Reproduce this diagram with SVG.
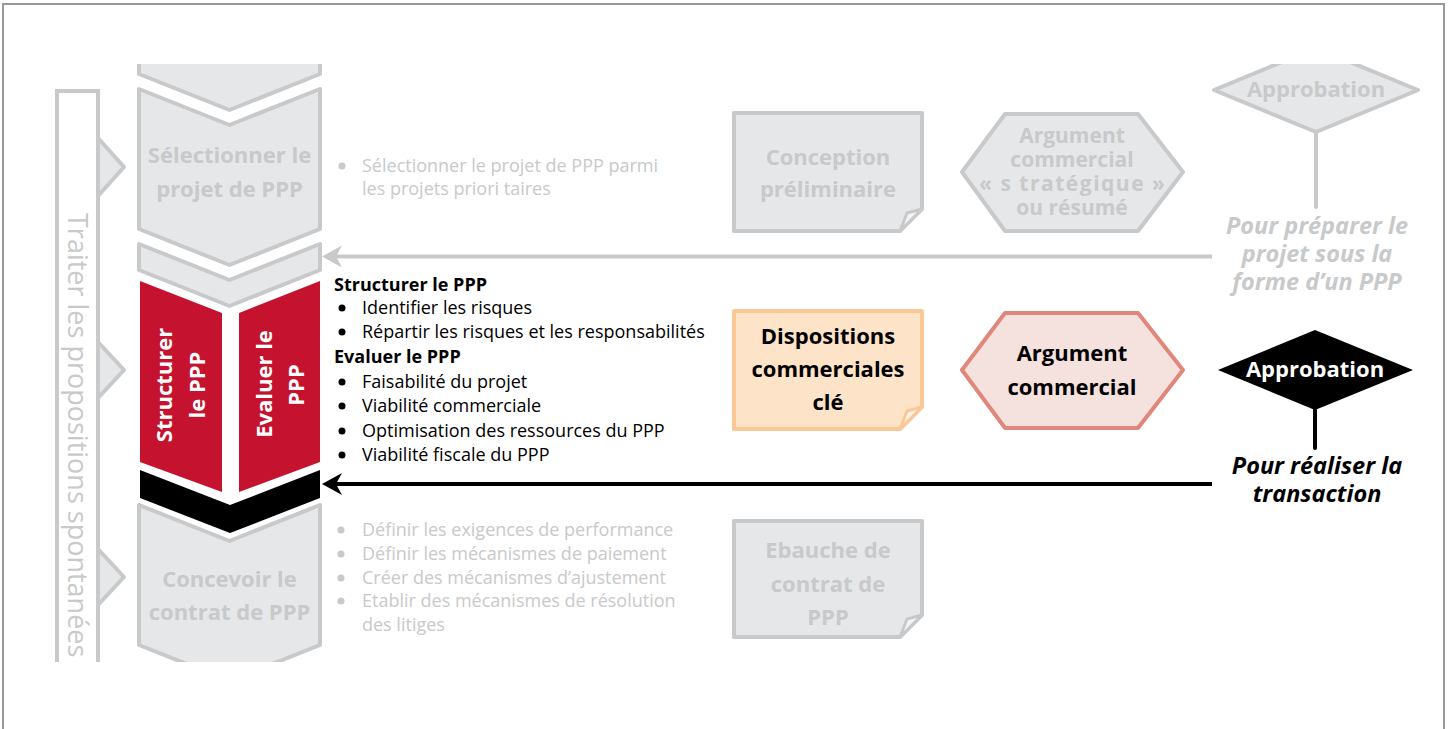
<svg xmlns="http://www.w3.org/2000/svg" width="1449" height="729" viewBox="0 0 1449 729">
<style>
.gs{fill:#e6e7e8;stroke:#c8c9ca;stroke-width:4;stroke-linejoin:round}
.lbl{font-family:"Open Sans","Noto Sans","DejaVu Sans",sans-serif;font-weight:bold;font-size:22px;text-anchor:middle}
.body{font-family:"Open Sans","Noto Sans","DejaVu Sans",sans-serif;font-size:18px}
.b{font-weight:bold}
.gt{fill:#c8c9ca}
.bt{fill:#000}
.wt{fill:#fff}
.it{font-style:italic;font-size:23.5px}
.hx{font-size:21px}
</style>
<defs>
<clipPath id="clip"><rect x="0" y="64" width="1449" height="598"/></clipPath>
<marker id="ahGray" markerUnits="userSpaceOnUse" markerWidth="24" markerHeight="26" viewBox="0 -13 24 26" refX="12" refY="0" orient="auto">
<path d="M20,0 L0,-11 L6,0 L0,11 Z" fill="#c8c9ca"/>
</marker>
<marker id="ahBlack" markerUnits="userSpaceOnUse" markerWidth="24" markerHeight="26" viewBox="0 -13 24 26" refX="12" refY="0" orient="auto">
<path d="M20,0 L0,-11 L6,0 L0,11 Z" fill="#000"/>
</marker>
</defs>
<rect x="3" y="4" width="1441" height="740" fill="#fff" stroke="#999" stroke-width="2"/>

<g clip-path="url(#clip)">
<g id="spontaneous-bar">
<rect x="57" y="91" width="41" height="600" fill="#fff" stroke="#c8c9ca" stroke-width="4"/>
<polygon class="gs" points="98,138 124,167 98,196"/>
<polygon class="gs" points="98,342 124,370 98,398"/>
<polygon class="gs" points="98,549 124,577 98,605"/>
<text class="body gt" transform="translate(68,213) rotate(90)" style="font-size:27px">Traiter les propositions spontanées</text>
</g>
<g id="step-previous">
<polygon class="gs" points="139,40 320,40 320,74 229.5,110 139,74"/>
</g>
<g id="step-select">
<polygon class="gs" points="139,89 229.5,125 320,89 320,229 229.5,265 139,229"/>
<text class="lbl gt" x="229.5" y="163">Sélectionner le</text>
<text class="lbl gt" x="229.5" y="197">projet de PPP</text>
</g>
<g id="step-thin">
<polygon class="gs" points="139,244 229.5,280 320,244 320,270 229.5,306 139,270"/>
</g>
<g id="step-structure">
<polygon points="140,281 222,313 222,492 140,462" fill="#c4122f"/>
<text class="lbl wt" transform="translate(172,385) rotate(-90)">Structurer</text>
<text class="lbl wt" transform="translate(205,385) rotate(-90)">le PPP</text>
</g>
<g id="step-evaluate">
<polygon points="239,313 320,281 320,462 239,492" fill="#c4122f"/>
<text class="lbl wt" transform="translate(272,384) rotate(-90)">Evaluer le</text>
<text class="lbl wt" transform="translate(304,385) rotate(-90)">PPP</text>
</g>
<g id="step-black">
<polygon points="140,470 230,505 320,470 320,498 230,533 140,498" fill="#000"/>
</g>
<g id="step-contract">
<polygon class="gs" points="139,505 229.5,541 320,505 320,645 229.5,681 139,645"/>
<text class="lbl gt" x="229.5" y="587">Concevoir le</text>
<text class="lbl gt" x="229.5" y="620">contrat de PPP</text>
</g>
<g id="approval-prepare">
<polygon class="gs" points="1316,48 1418,90 1316,132 1214,90"/>
<text class="lbl gt" x="1316" y="97">Approbation</text>
</g>
</g>

<g id="list-select">
<circle cx="342" cy="166" r="3.5" fill="#c8c9ca"/>
<text class="body gt" x="362" y="172">Sélectionner le projet de PPP parmi</text>
<text class="body gt" x="362" y="195">les projets priori taires</text>
</g>

<g id="list-structure">
<text class="body b bt" x="334" y="291">Structurer le PPP</text>
<circle cx="342" cy="308" r="3.5" fill="#000"/>
<text class="body bt" x="362" y="314">Identifier les risques</text>
<circle cx="342" cy="332" r="3.5" fill="#000"/>
<text class="body bt" x="362" y="338">Répartir les risques et les responsabilités</text>
<text class="body b bt" x="334" y="363">Evaluer le PPP</text>
<circle cx="342" cy="382" r="3.5" fill="#000"/>
<text class="body bt" x="362" y="388">Faisabilité du projet</text>
<circle cx="342" cy="406" r="3.5" fill="#000"/>
<text class="body bt" x="362" y="412">Viabilité commerciale</text>
<circle cx="342" cy="431" r="3.5" fill="#000"/>
<text class="body bt" x="362" y="437">Optimisation des ressources du PPP</text>
<circle cx="342" cy="455" r="3.5" fill="#000"/>
<text class="body bt" x="362" y="461">Viabilité fiscale du PPP</text>
</g>

<g id="list-contract">
<circle cx="341" cy="530" r="3.5" fill="#c8c9ca"/>
<text class="body gt" x="362" y="536">Définir les exigences de performance</text>
<circle cx="341" cy="554" r="3.5" fill="#c8c9ca"/>
<text class="body gt" x="362" y="560">Définir les mécanismes de paiement</text>
<circle cx="341" cy="578" r="3.5" fill="#c8c9ca"/>
<text class="body gt" x="362" y="584">Créer des mécanismes d’ajustement</text>
<circle cx="341" cy="601" r="3.5" fill="#c8c9ca"/>
<text class="body gt" x="362" y="607">Etablir des mécanismes de résolution</text>
<text class="body gt" x="362" y="631">des litiges</text>
</g>

<g id="doc-conception">
<path class="gs" d="M734,113 H922 V209 L900,231 H734 Z"/>
<polygon points="922,209 907,213 900,231" fill="#f4f4f4" stroke="#c8c9ca" stroke-width="3" stroke-linejoin="round"/>
<text class="lbl gt" x="828" y="165">Conception</text>
<text class="lbl gt" x="828" y="197">préliminaire</text>
</g>

<g id="hex-strategic">
<polygon class="gs" points="962,172 1005,114 1138,114 1183,172 1138,231 1005,231"/>
<text class="lbl gt hx" x="1072" y="143">Argument</text>
<text class="lbl gt hx" x="1072" y="167">commercial</text>
<text class="lbl gt hx" x="1072" y="191" textLength="186">« s tratégique »</text>
<text class="lbl gt hx" x="1072" y="215">ou résumé</text>
</g>

<g id="doc-dispositions">
<path d="M734,311 H922 V407 L900,429 H734 Z" fill="#fde4c9" stroke="#fbc796" stroke-width="4" stroke-linejoin="round"/>
<polygon points="922,407 907,411 900,429" fill="#fff3e6" stroke="#fbc796" stroke-width="3" stroke-linejoin="round"/>
<text class="lbl bt" x="828" y="344">Dispositions</text>
<text class="lbl bt" x="828" y="377">commerciales</text>
<text class="lbl bt" x="828" y="410">clé</text>
</g>

<g id="hex-business">
<polygon points="962,370 1005,313 1138,313 1183,370 1138,428 1005,428" fill="#f5e1dd" stroke="#e0877b" stroke-width="4" stroke-linejoin="round"/>
<text class="lbl bt" x="1072" y="361">Argument</text>
<text class="lbl bt" x="1072" y="395">commercial</text>
</g>

<g id="doc-contract">
<path class="gs" d="M734,521 H922 V615 L900,637 H734 Z"/>
<polygon points="922,615 907,619 900,637" fill="#f4f4f4" stroke="#c8c9ca" stroke-width="3" stroke-linejoin="round"/>
<text class="lbl gt" x="828" y="558">Ebauche de</text>
<text class="lbl gt" x="828" y="592">contrat de</text>
<text class="lbl gt" x="828" y="625">PPP</text>
</g>

<g id="approval-transaction">
<polygon points="1315,330 1413,370 1315,410 1218,370" fill="#000"/>
<text class="lbl wt" x="1315" y="377">Approbation</text>
</g>

<g id="label-prepare">
<text class="lbl gt it" x="1317" y="234">Pour préparer le</text>
<text class="lbl gt it" x="1317" y="262">projet sous la</text>
<text class="lbl gt it" x="1317" y="290">forme d’un PPP</text>
</g>

<g id="label-transaction">
<text class="lbl bt it" x="1317" y="474">Pour réaliser la</text>
<text class="lbl bt it" x="1317" y="502">transaction</text>
</g>

<g id="connectors">
<line x1="1316" y1="132" x2="1316" y2="207" stroke="#c8c9ca" stroke-width="4" stroke-linecap="round"/>
<line x1="1315" y1="410" x2="1315" y2="448" stroke="#000" stroke-width="4" stroke-linecap="round"/>
<line x1="1212" y1="256.5" x2="330" y2="256.5" stroke="#c8c9ca" stroke-width="4" marker-end="url(#ahGray)"/>
<line x1="1212" y1="484" x2="330" y2="484" stroke="#000" stroke-width="4" marker-end="url(#ahBlack)"/>
</g>
</svg>
